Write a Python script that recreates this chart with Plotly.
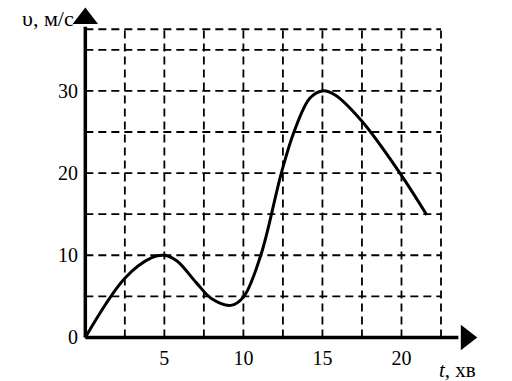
import plotly.graph_objects as go

# Data
t_vals = [0, 2.5, 4.2, 5, 5.8, 7.0, 8.0, 9.2, 10, 11.1, 12.4, 13.2, 14.2, 15, 15.8, 17.5, 19.9, 21.6]
v_vals = [0, 7.2, 9.7, 10, 9.3, 6.7, 4.7, 3.9, 4.9, 10, 20, 25, 29.1, 30, 29.5, 26.3, 20, 14.9]

x_grid = [2.5, 5, 7.5, 10, 12.5, 15, 17.5, 20, 22.5]
y_grid = [5, 10, 15, 20, 25, 30, 35, 37.5]
x_ticks = [5, 10, 15, 20]
y_ticks = [0, 10, 20, 30]
x_max_grid = 22.5
y_max_grid = 37.5
x_arrow = 24.1
y_arrow = 38.8

FONT = "Liberation Serif"

fig = go.Figure()

# grid (dashed)
gx, gy = [], []
for xv in x_grid:
    gx += [xv, xv, None]
    gy += [0, y_max_grid, None]
for yv in y_grid:
    gx += [0, x_max_grid, None]
    gy += [yv, yv, None]
fig.add_trace(go.Scatter(x=gx, y=gy, mode="lines",
                         line=dict(color="black", width=1.8, dash="8px,5px"),
                         hoverinfo="skip", showlegend=False))

# axes lines
fig.add_trace(go.Scatter(x=[0, 0, None, 0, x_arrow - 0.5], y=[0, y_arrow - 1, None, 0, 0],
                         mode="lines", line=dict(color="black", width=3.5),
                         hoverinfo="skip", showlegend=False))
# arrowheads
fig.add_trace(go.Scatter(x=[0], y=[y_arrow], mode="markers",
                         marker=dict(symbol="triangle-up", size=22, color="black"),
                         cliponaxis=False, hoverinfo="skip", showlegend=False))
fig.add_trace(go.Scatter(x=[x_arrow], y=[0], mode="markers",
                         marker=dict(symbol="triangle-right", size=22, color="black"),
                         cliponaxis=False, hoverinfo="skip", showlegend=False))

# curve
fig.add_trace(go.Scatter(x=t_vals, y=v_vals, mode="lines",
                         line=dict(color="black", width=3, shape="spline", smoothing=1.0),
                         showlegend=False))

fig.update_layout(
    width=512, height=381,
    margin=dict(l=79, r=22, t=12, b=37),
    paper_bgcolor="white", plot_bgcolor="white",
    font=dict(family=FONT, size=20, color="black"),
    xaxis=dict(range=[-0.4, 25.6], tickvals=x_ticks, ticktext=[str(v) for v in x_ticks],
               showgrid=False, zeroline=False, showline=False, ticks="",
               tickfont=dict(family=FONT, size=20)),
    yaxis=dict(range=[-0.8, 39.6], tickvals=y_ticks, ticktext=[str(v) for v in y_ticks],
               showgrid=False, zeroline=False, showline=False, ticks="",
               tickfont=dict(family=FONT, size=20)),
    annotations=[
        dict(text="υ, м/с", xref="paper", yref="paper", x=0, y=1, xanchor="right", yanchor="middle",
             xshift=-3, yshift=-6, showarrow=False, font=dict(family=FONT, size=22)),
        dict(text="<i>t</i>, хв", xref="x", yref="y", x=x_arrow, y=0, xanchor="center", yanchor="middle",
             xshift=-9, yshift=-33, showarrow=False, font=dict(family=FONT, size=21)),
    ],
)

fig.write_html("out.html")
